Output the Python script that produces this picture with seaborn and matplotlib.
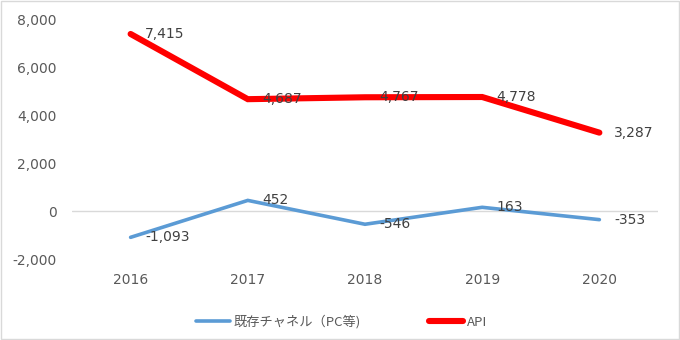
import matplotlib
matplotlib.use("Agg")
import matplotlib.pyplot as plt
import seaborn as sns
import pandas as pd
from matplotlib.patches import Rectangle

years = ["2016", "2017", "2018", "2019", "2020"]
existing_channel = [-1093, 452, -546, 163, -353]
api = [7415, 4687, 4767, 4778, 3287]
series_names = ["既存チャネル（PC等)", "API"]
series_colors = ["#5B9BD5", "#FF0000"]
series_widths = [2.6, 4.4]
y_ticks = [-2000, 0, 2000, 4000, 6000, 8000]

sns.set_theme(style="white")
plt.rcParams["font.family"] = ["Noto Sans CJK JP", "DejaVu Sans"]

df = pd.DataFrame({
    "year": years * 2,
    "value": existing_channel + api,
    "series": [series_names[0]] * len(years) + [series_names[1]] * len(years),
})

fig = plt.figure(figsize=(6.8, 3.4), dpi=100)
ax = fig.add_axes([0.1059, 0.2382, 0.8617, 0.7030])

sns.lineplot(data=df, x="year", y="value", hue="series",
             palette=dict(zip(series_names, series_colors)),
             ax=ax, legend=False, sort=False)
for line, lw in zip(ax.get_lines(), series_widths):
    line.set_linewidth(lw)
    line.set_solid_capstyle("round")
    line.set_solid_joinstyle("miter")

# value labels to the right of each point
for vals in (existing_channel, api):
    for i, v in enumerate(vals):
        ax.annotate(f"{v:,}", xy=(i, v), xytext=(10.5, 0), textcoords="offset points",
                    ha="left", va="center", fontsize=10, color="#404040",
                    family="DejaVu Sans")

ax.axhline(0, color="#D9D9D9", linewidth=1, zorder=0)
ax.set_xlim(-0.5, len(years) - 0.5)
ax.set_ylim(-2000, 8000)
ax.set_yticks(y_ticks)
ax.set_yticklabels([f"{t:,}" for t in y_ticks])
ax.set_xlabel("")
ax.set_ylabel("")
for s in ax.spines.values():
    s.set_visible(False)
ax.tick_params(axis="y", length=0, pad=11, labelsize=10, labelcolor="#595959")
ax.tick_params(axis="x", length=0, pad=10, labelsize=10, labelcolor="#595959")
for lbl in ax.get_xticklabels() + ax.get_yticklabels():
    lbl.set_family("DejaVu Sans")

handles = [plt.Line2D([], [], color=c, linewidth=w, solid_capstyle="round")
           for c, w in zip(series_colors, series_widths)]
leg = fig.legend(handles, series_names, loc="center", bbox_to_anchor=(0.502, 0.053),
                 ncol=2, frameon=False, handlelength=2.6, handletextpad=0.25,
                 columnspacing=5.2, fontsize=9.5)
for t in leg.get_texts():
    t.set_color("#595959")

fig.patches.append(Rectangle((0.001, 0.002), 0.997, 0.995, transform=fig.transFigure,
                             fill=False, edgecolor="#D9D9D9", linewidth=1))

fig.savefig("out.png", dpi=100)
